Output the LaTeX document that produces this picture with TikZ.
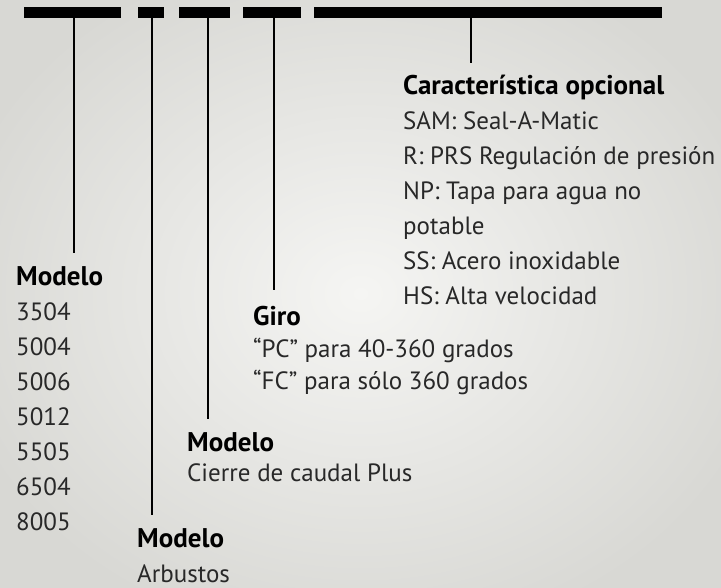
\documentclass[tikz,border=0pt]{standalone}
\usepackage{fontspec}
\setmainfont{PT Sans}
\usepackage{tikz}
\usetikzlibrary{positioning}
\definecolor{hgInnen}{RGB}{245,245,243}
\definecolor{hgAussen}{RGB}{216,216,212}
\definecolor{textgrau}{RGB}{40,40,40}
\newcommand{\kopfzeile}[1]{\textcolor{black}{\fontsize{27}{35}\selectfont\bfseries #1}}

\begin{document}
\begin{tikzpicture}[x=1pt,y=-1pt]
      \tikzset{
        balken/.style={rectangle, fill=black, inner sep=0pt, minimum height=11pt, anchor=north west},
        linie/.style={line width=2pt, black},
        liste/.style={anchor=base west, align=left, inner sep=0pt, text=textgrau,
                      font=\fontsize{25}{35}\selectfont}
      }

      \useasboundingbox (0,0) rectangle (721,587);
      \shade[inner color=hgInnen, outer color=hgAussen] (-60,-60) rectangle (781,647);

      % Balken oben
      \node[balken, minimum width=97pt] (bar1) at (24,7) {};
      \node[balken, minimum width=26pt] (bar2) at (138,7) {};
      \node[balken, minimum width=51pt] (bar3) at (179,7) {};
      \node[balken, minimum width=58pt] (bar4) at (243,7) {};
      \node[balken, minimum width=348pt] (bar5) at (314,7) {};

      % Beschriftungen (Position = Grundlinie der letzten Zeile)
      \node[liste] (modell) at (16,530) {%
        \kopfzeile{Modelo}\\
        3504\\5004\\5006\\5012\\5505\\6504\\8005};

      \node[liste] (option) at (403,304) {%
        \kopfzeile{Característica opcional}\\
        SAM: Seal-A-Matic\\
        R: PRS Regulación de presión\\
        NP: Tapa para agua no\\
        potable\\
        SS: Acero inoxidable\\
        HS: Alta velocidad};

      \node[liste, font=\fontsize{25}{32}\selectfont] (giro) at (253,389) {%
        \kopfzeile{Giro}\\
        “PC” para 40-360 grados\\
        “FC” para sólo 360 grados};

      \node[liste, font=\fontsize{25}{30}\selectfont] (cierre) at (187,481) {%
        \kopfzeile{Modelo}\\
        Cierre de caudal Plus};

      \node[liste] (arbust) at (137,582) {%
        \kopfzeile{Modelo}\\
        Arbustos};

      % Verbindungen
      \coordinate (e1) at (74,253);
      \coordinate (e2) at (152,515);
      \coordinate (e3) at (208,419);
      \coordinate (e4) at (274,290);
      \coordinate (e5) at (471,63);

      \draw[linie] (e1 |- bar1.south) -- (e1);
      \draw[linie] (e2 |- bar2.south) -- (e2);
      \draw[linie] (e3 |- bar3.south) -- (e3);
      \draw[linie] (e4 |- bar4.south) -- (e4);
      \draw[linie] (e5 |- bar5.south) -- (e5);

    \end{tikzpicture}
\end{document}
